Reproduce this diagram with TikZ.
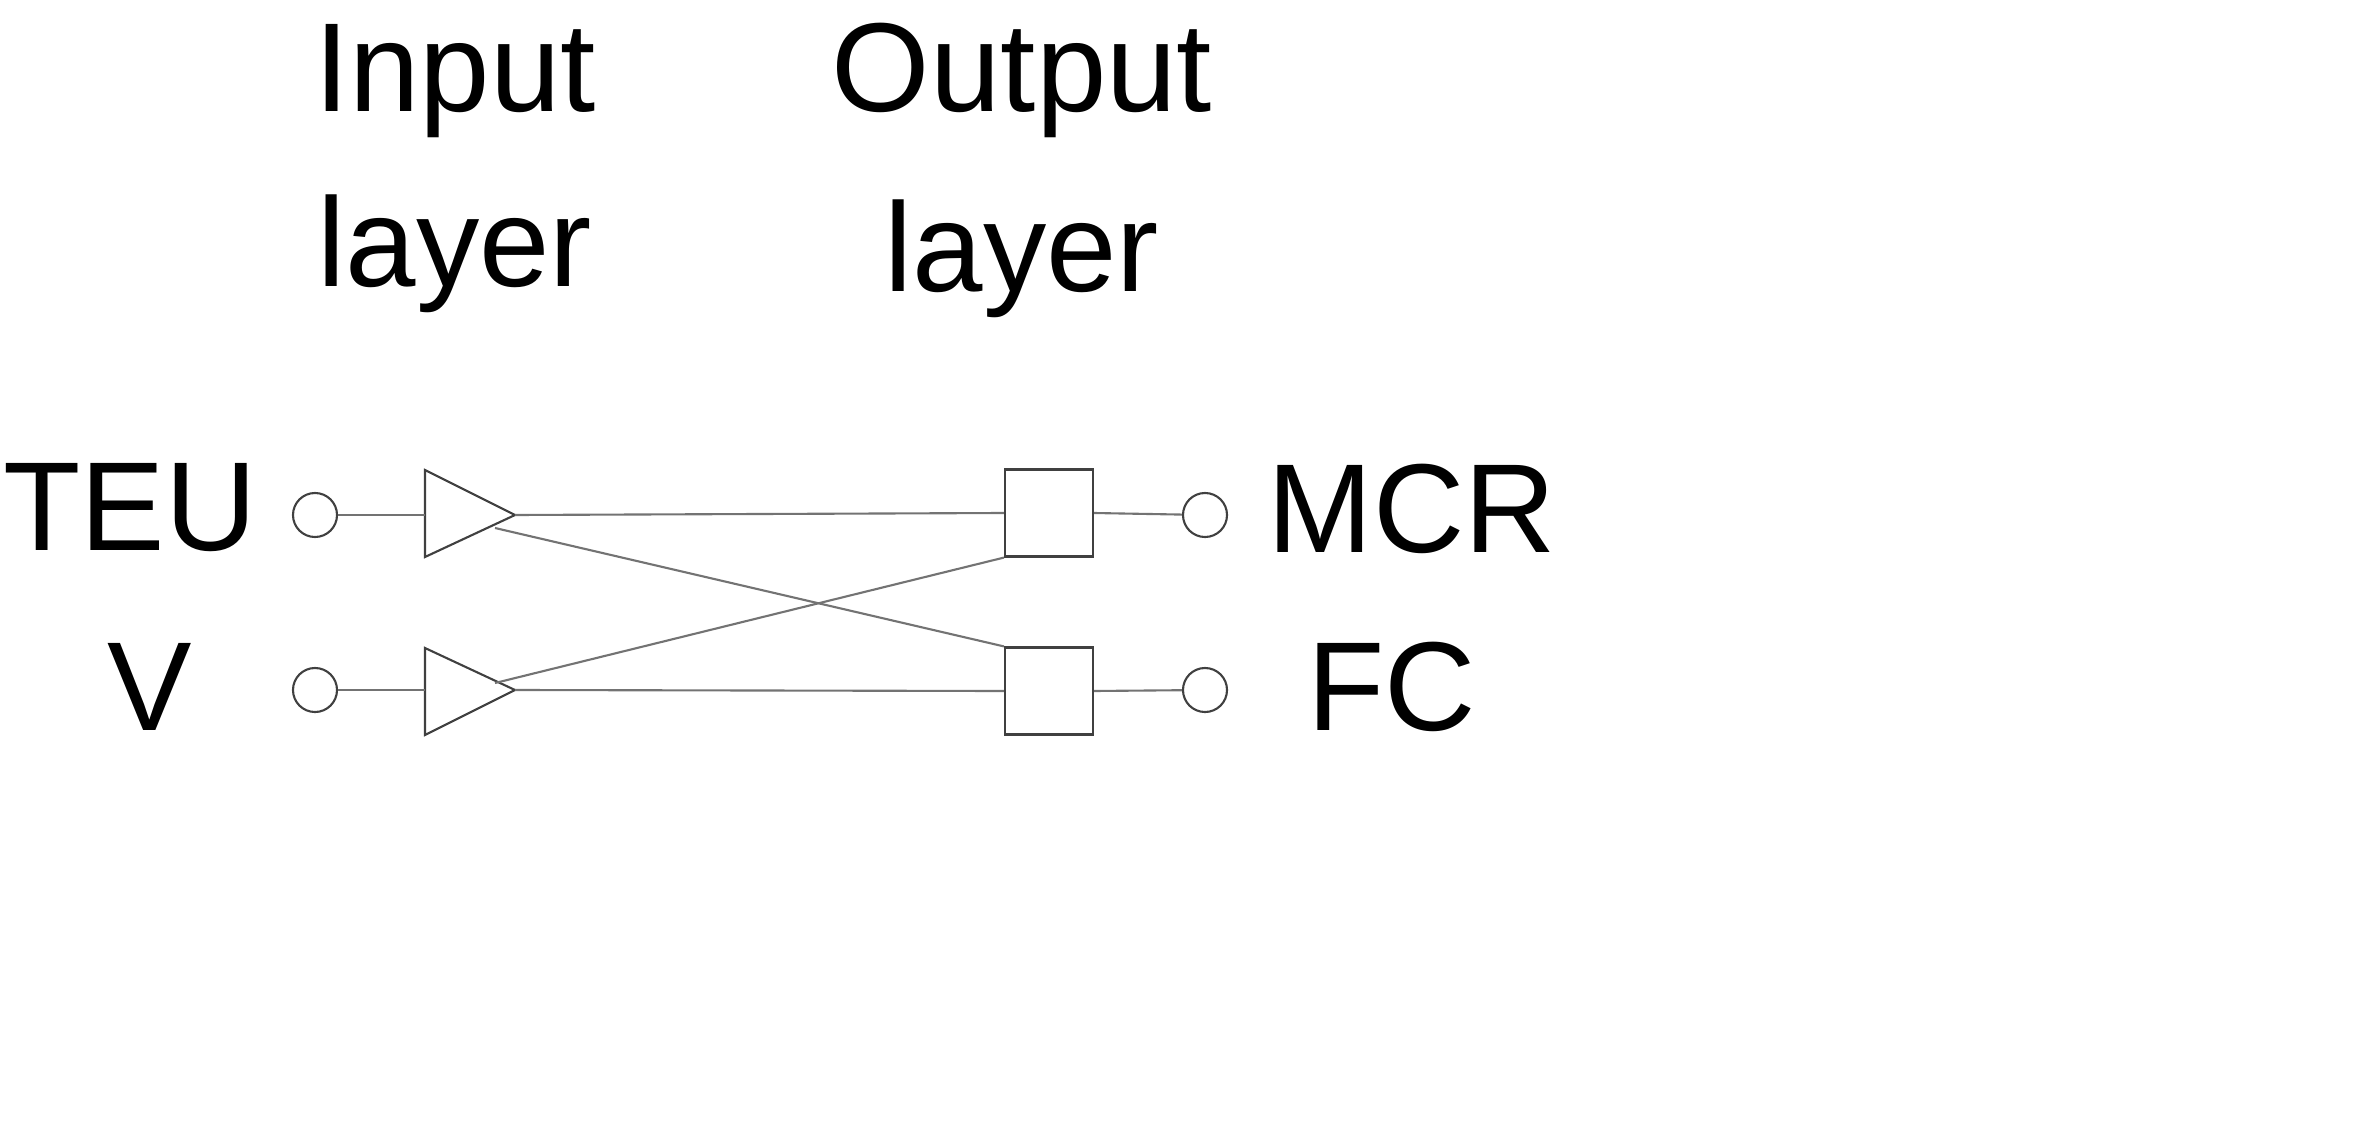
\documentclass[tikz,border=0pt]{standalone}
\usepackage{fontspec}
\setmainfont{Liberation Sans}
\begin{document}
\begin{tikzpicture}[x=0.01cm,y=-0.01cm,
  txt/.style={font=\fontsize{36}{36}\selectfont,inner sep=0pt,anchor=base},
  shp/.style={draw=black!75,line width=0.6pt},
  wire/.style={draw=black!55,line width=0.6pt},
  pin/.style={circle,shp,minimum size=0.44cm,inner sep=0pt}]
\useasboundingbox (0,0) rectangle (2358,1146);
\node[txt] (in1) at (455,112) {Input};
\node[txt] (in2) at (455,287) {layer};
\node[txt] (out1) at (1022,112) {Output};
\node[txt] (out2) at (1022,292) {layer};
\node[txt] (teu) at (130,550) {TEU};
\node[txt] (v) at (150,730) {V};
\node[txt] (mcr) at (1412,552) {MCR};
\node[txt] (fc) at (1392,730) {FC};
\node[pin] (c1) at (315,515) {};
\node[pin] (c2) at (315,690) {};
\node[pin] (c3) at (1205,515) {};
\node[pin] (c4) at (1205,690) {};
\coordinate (t1) at (515,515);
\coordinate (t2) at (515,690);
\draw[shp] (425,470) -- (t1) -- (425,557) -- cycle;
\draw[shp] (425,648) -- (t2) -- (425,735) -- cycle;
\node[shp,minimum width=0.88cm,minimum height=0.87cm,inner sep=0pt] (s1) at (1049,513) {};
\node[shp,minimum width=0.88cm,minimum height=0.87cm,inner sep=0pt] (s2) at (1049,691) {};
\draw[wire] (c1) -- (425,515);
\draw[wire] (c2) -- (425,690);
\draw[wire] (t1) -- (s1.west);
\draw[wire] (t2) -- (s2.west);
\draw[wire] (495,528) -- (s2.north west);
\draw[wire] (495,683) -- (s1.south west);
\draw[wire] (s1.east) -- (c3);
\draw[wire] (s2.east) -- (c4);
\end{tikzpicture}
\end{document}
